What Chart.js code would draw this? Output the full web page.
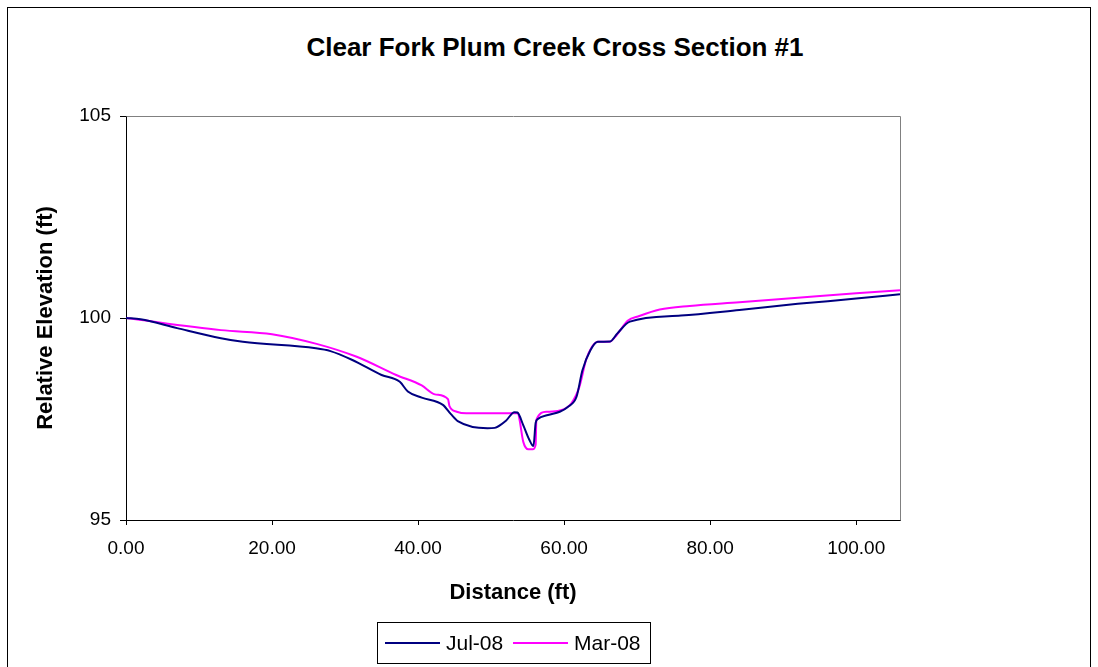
<!DOCTYPE html>
<html>
<head>
<meta charset="utf-8">
<script src="https://cdn.jsdelivr.net/npm/chart.js@4"></script>
<style>
  body { margin: 0; background: #fff; font-family: "Liberation Sans", Arial, sans-serif; }
  #wrap { position: relative; width: 1098px; height: 667px; overflow: hidden; }
  #frame { position: absolute; left: 7px; top: 7px; width: 1082px; height: 700px; border: 1px solid #000; }
  #title { position: absolute; left: 0; width: 1110px; top: 32px; text-align: center; font-weight: bold; font-size: 26px; line-height: 30px; }
  #legend { position: absolute; left: 377px; top: 622px; width: 272px; height: 40px; border: 1px solid #000; }
  .item { position: absolute; top: 0; height: 40px; font-size: 21px; line-height: 40px; }
  .swatch { position: absolute; top: 19px; width: 55px; height: 2px; }
  canvas { position: absolute; left: 0; top: 0; }
</style>
</head>
<body>
<div id="wrap">
  <div id="frame"></div>
  <div id="title">Clear Fork Plum Creek Cross Section #1</div>
  <canvas id="chart" width="1098" height="667"></canvas>
  <div id="legend">
    <div class="swatch" style="left:7px;background:#000080"></div>
    <div class="item" style="left:68px">Jul-08</div>
    <div class="swatch" style="left:135px;background:#ff00ff"></div>
    <div class="item" style="left:196px">Mar-08</div>
  </div>
</div>
<script>
// Distancia (ft) y elevación relativa (ft) de cada levantamiento
const julDist = [0, 2, 7, 13, 16, 26, 28, 31, 35, 37.5, 38.6, 40.5, 43.4, 44.5, 45.5, 49.5, 50.5, 52, 53.2, 53.6, 54.4, 55.2, 55.8, 56.1, 56.4, 57.8, 59.4, 60.5, 61.7, 62.5, 63.6, 64.6, 66.3, 67.3, 69, 76, 84, 92, 100, 106];
const julElev = [100, 99.97, 99.75, 99.5, 99.41, 99.25, 99.18, 98.96, 98.59, 98.42, 98.18, 98.03, 97.85, 97.62, 97.44, 97.27, 97.28, 97.45, 97.67, 97.66, 97.35, 97.0, 96.83, 97.4, 97.5, 97.6, 97.68, 97.8, 98.05, 98.7, 99.2, 99.41, 99.42, 99.62, 99.91, 100.06, 100.2, 100.35, 100.48, 100.59];

const marDist = [0, 13, 20, 26.1, 31.6, 37, 40.5, 42.3, 44.1, 44.3, 45.3, 46.6, 53.7, 53.9, 54.4, 55.1, 55.7, 56.1, 56.2, 57.6, 59.4, 61, 62.1, 63, 63.7, 64.6, 66.2, 67.2, 68.7, 70.3, 73.1, 77.2, 84, 92, 100, 106];
const marElev = [100, 99.7, 99.6, 99.36, 99.04, 98.59, 98.33, 98.11, 97.99, 97.82, 97.68, 97.64, 97.64, 97.48, 96.94, 96.75, 96.75, 96.86, 97.48, 97.68, 97.71, 97.89, 98.3, 98.96, 99.25, 99.41, 99.41, 99.58, 99.93, 100.05, 100.21, 100.3, 100.39, 100.5, 100.61, 100.69];

const xTicks = [0, 20, 40, 60, 80, 100];
const yTicks = [95, 100, 105];

const toPoints = (xs, ys) => xs.map((x, i) => ({ x: x, y: ys[i] }));
const font = 'Liberation Sans, Arial, sans-serif';

// Marco gris arriba y a la derecha del área de trazado
const plotBox = {
    id: 'plotBox',
    beforeDatasetsDraw(chart) {
        const { ctx, chartArea: a } = chart;
        ctx.save();
        ctx.strokeStyle = '#808080';
        ctx.lineWidth = 1;
        ctx.beginPath();
        ctx.moveTo(Math.round(a.left) + 0.5, Math.round(a.top) + 0.5);
        ctx.lineTo(Math.round(a.right) + 0.5, Math.round(a.top) + 0.5);
        ctx.lineTo(Math.round(a.right) + 0.5, Math.round(a.bottom) + 0.5);
        ctx.stroke();
        ctx.restore();
    }
};

new Chart(document.getElementById('chart'), {
    type: 'line',
    data: {
        datasets: [
            { label: 'Jul-08', data: toPoints(julDist, julElev), borderColor: '#000080', borderWidth: 2, pointRadius: 0, cubicInterpolationMode: 'monotone', fill: false },
            { label: 'Mar-08', data: toPoints(marDist, marElev), borderColor: '#ff00ff', borderWidth: 2, pointRadius: 0, cubicInterpolationMode: 'monotone', fill: false }
        ]
    },
    options: {
        responsive: false,
        animation: false,
        devicePixelRatio: 1,
        layout: { padding: { left: 33, top: 116, right: 198, bottom: 61 } },
        plugins: {
            legend: { display: false },
            tooltip: { enabled: false }
        },
        scales: {
            x: {
                type: 'linear',
                min: 0,
                max: 106,
                afterBuildTicks: (s) => { s.ticks = xTicks.map(v => ({ value: v })); },
                afterFit: (s) => { s.height = 86; },
                grid: { drawOnChartArea: false, drawTicks: true, tickLength: 5, color: '#000' },
                border: { color: '#000' },
                ticks: { color: '#000', padding: 12, maxRotation: 0, font: { family: font, size: 19 }, callback: (v) => Number(v).toFixed(2) },
                title: { display: true, text: 'Distance (ft)', color: '#000', padding: 0, font: { family: font, size: 22, weight: 'bold' } }
            },
            y: {
                min: 95,
                max: 105,
                afterBuildTicks: (s) => { s.ticks = yTicks.map(v => ({ value: v })); },
                afterFit: (s) => { s.width = 93; },
                grid: { drawOnChartArea: false, drawTicks: true, tickLength: 6, color: '#000' },
                border: { color: '#000' },
                ticks: { color: '#000', padding: 9, font: { family: font, size: 19 } },
                title: { display: true, text: 'Relative Elevation (ft)', color: '#000', padding: 0, font: { family: font, size: 22, weight: 'bold' } }
            }
        }
    },
    plugins: [plotBox]
});
</script>
</body>
</html>
